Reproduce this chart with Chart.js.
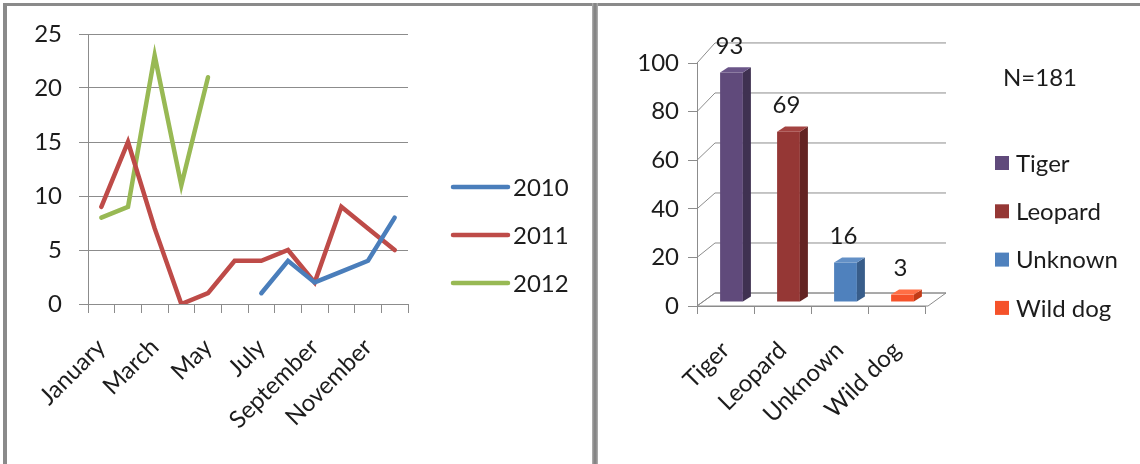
<!DOCTYPE html>
<html>
<head>
<meta charset="utf-8">
<title>Attacks by month and by predator</title>
<script src="https://cdn.jsdelivr.net/npm/chart.js@4.4.1/dist/chart.umd.min.js"></script>
<style>
  html, body { margin: 0; padding: 0; background: #fff; }
  #page { position: relative; width: 1140px; height: 464px; overflow: hidden; background: #fff; }
  canvas { position: absolute; left: 0; top: 0; }
  .rule { position: absolute; background: #8a8a8a; }
  .divider { background: linear-gradient(to right, #b4b4b4, #858585 35%, #858585 65%, #b4b4b4); }
</style>
</head>
<body>
<div id="page">
  <div class="rule" style="left:3px;top:3px;width:1137px;height:3px"></div>
  <div class="rule" style="left:3px;top:3px;width:4px;height:461px"></div>
  <div class="rule divider" style="left:592px;top:3px;width:6px;height:461px"></div>
  <canvas id="monthly" width="1140" height="464"></canvas>
  <canvas id="predators" width="1140" height="464"></canvas>
</div>
<script>
// ---- data ----
const months = ['January', 'February', 'March', 'April', 'May', 'June',
                'July', 'August', 'September', 'October', 'November', 'December'];
const years = ['2010', '2011', '2012'];
const cases2010 = [null, null, null, null, null, null, 1, 4, 2, 3, 4, 8];
const cases2011 = [9, 15, 7, 0, 1, 4, 4, 5, 2, 9, 7, 5];
const cases2012 = [8, 9, 23, 11, 21, null, null, null, null, null, null, null];

const predators = ['Tiger', 'Leopard', 'Unknown', 'Wild dog'];
const predatorCases = [93, 69, 16, 3];

// ---- styling ----
const FONT = 'Lato, "Open Sans", sans-serif';
const FONT_SIZE = 24;
const INK = '#1c1c1c';
const GRID = '#8c8c8c';
const yearColors = ['#4A7EBB', '#BE4B48', '#98B954'];
const faceColors = ['#604A7B', '#953735', '#4F81BD', '#F5522A'];
const sideColors = ['#3F3151', '#632423', '#385D8A', '#C23B17'];
const topColors = ['#6A5588', '#A34341', '#6390C6', '#FF6E45'];
const tickFont = { family: FONT, size: FONT_SIZE };
const cssFont = `${FONT_SIZE}px ${FONT}`;

// Line legend to the right of the monthly plot
const yearKey = {
  id: 'yearKey',
  afterDraw(chart) {
    const { ctx, chartArea } = chart;
    const x = chartArea.right + 45;
    ctx.save();
    chart.data.datasets.forEach((ds, i) => {
      const y = chartArea.top + 153 + i * 48;
      ctx.strokeStyle = ds.borderColor;
      ctx.lineWidth = 4.5;
      ctx.lineCap = 'round';
      ctx.beginPath();
      ctx.moveTo(x, y);
      ctx.lineTo(x + 55, y);
      ctx.stroke();
      ctx.fillStyle = INK;
      ctx.font = cssFont;
      ctx.textBaseline = 'middle';
      ctx.textAlign = 'left';
      ctx.fillText(ds.label, x + 60, y + 1);
    });
    ctx.restore();
  }
};

new Chart(document.getElementById('monthly'), {
  type: 'line',
  data: {
    labels: months,
    datasets: [
      { label: years[0], data: cases2010, borderColor: yearColors[0] },
      { label: years[1], data: cases2011, borderColor: yearColors[1] },
      { label: years[2], data: cases2012, borderColor: yearColors[2] }
    ]
  },
  options: {
    responsive: false,
    animation: false,
    layout: { padding: { left: 28, right: 732, top: 34, bottom: 10 } },
    elements: {
      line: { borderWidth: 4.5, tension: 0, borderCapStyle: 'round', borderJoinStyle: 'miter' },
      point: { radius: 0, hoverRadius: 0 }
    },
    plugins: { legend: { display: false }, tooltip: { enabled: false } },
    scales: {
      x: {
        offset: true,
        grid: { offset: true, drawOnChartArea: false, tickLength: 9, color: GRID },
        border: { display: false },
        ticks: {
          autoSkip: false, minRotation: 45, maxRotation: 45, padding: 20,
          font: tickFont, color: INK,
          callback: (v, i) => (i % 2 === 0 ? months[i] : '')
        },
        afterFit(s) { s.height = 150; }
      },
      y: {
        min: 0, max: 25,
        ticks: { stepSize: 5, padding: 17, font: tickFont, color: INK },
        grid: { color: GRID, tickLength: 9 },
        border: { color: GRID },
        afterFit(s) { s.width = 60; }
      }
    }
  },
  plugins: [yearKey]
});

// Oblique 3-D look: back wall, floor, bar sides and tops, value labels
const depth = { wallDx: 18, wallDy: -13, wallK: 1.029, barDx: 6, barDy: -4, barK: 1.016, sideDx: 8, sideDy: -5 };

const depth3d = {
  id: 'depth3d',
  beforeDatasetsDraw(chart) {
    const { ctx, chartArea: { left, right }, scales: { y: ys } } = chart;
    const y0 = ys.getPixelForValue(0);
    const back = v => y0 + depth.wallDy - (y0 - ys.getPixelForValue(v)) * depth.wallK;
    const farRight = right + 3;
    ctx.save();
    ctx.strokeStyle = GRID;
    ctx.lineWidth = 1;
    ctx.fillStyle = '#fff';
    ctx.beginPath();
    ctx.moveTo(left, y0);
    ctx.lineTo(farRight, y0);
    ctx.lineTo(farRight + depth.wallDx, back(0));
    ctx.lineTo(left + depth.wallDx, back(0));
    ctx.closePath();
    ctx.fill();
    ctx.stroke();
    ys.ticks.forEach(t => {
      const fy = ys.getPixelForValue(t.value);
      const by = back(t.value);
      ctx.beginPath();
      ctx.moveTo(left, fy);
      ctx.lineTo(left + depth.wallDx, by);
      ctx.lineTo(farRight + depth.wallDx, by);
      ctx.stroke();
    });
    ctx.restore();
    // bars sit a little behind the front axis plane
    ctx.save();
    ctx.translate(depth.barDx, y0 + depth.barDy);
    ctx.scale(1, depth.barK);
    ctx.translate(0, -y0);
  },
  afterDatasetsDraw(chart) {
    const { ctx } = chart;
    const meta = chart.getDatasetMeta(0);
    meta.data.forEach((bar, i) => {
      const { x, y, base, width } = bar.getProps(['x', 'y', 'base', 'width'], true);
      const l = x - width / 2, r = x + width / 2;
      ctx.fillStyle = sideColors[i];
      ctx.beginPath();
      ctx.moveTo(r, y);
      ctx.lineTo(r + depth.sideDx, y + depth.sideDy);
      ctx.lineTo(r + depth.sideDx, base + depth.sideDy);
      ctx.lineTo(r, base);
      ctx.closePath();
      ctx.fill();
      ctx.fillStyle = topColors[i];
      ctx.beginPath();
      ctx.moveTo(l, y);
      ctx.lineTo(l + depth.sideDx, y + depth.sideDy);
      ctx.lineTo(r + depth.sideDx, y + depth.sideDy);
      ctx.lineTo(r, y);
      ctx.closePath();
      ctx.fill();
    });
    ctx.restore();

    const y0 = chart.scales.y.getPixelForValue(0);
    const values = chart.data.datasets[0].data;
    ctx.save();
    ctx.font = cssFont;
    ctx.fillStyle = INK;
    ctx.textAlign = 'center';
    ctx.textBaseline = 'middle';
    meta.data.forEach((bar, i) => {
      const topY = y0 + depth.barDy + (bar.y - y0) * depth.barK;
      ctx.fillText(String(values[i]), bar.x + depth.barDx - 2, topY - 26);
    });
    ctx.restore();
  }
};

// Total and category key to the right of the bars
const predatorKey = {
  id: 'predatorKey',
  afterDraw(chart) {
    const { ctx, chartArea: { top, right } } = chart;
    const ds = chart.data.datasets[0];
    const total = ds.data.reduce((a, b) => a + b, 0);
    ctx.save();
    ctx.font = cssFont;
    ctx.fillStyle = INK;
    ctx.textBaseline = 'middle';
    ctx.textAlign = 'left';
    ctx.fillText('N=' + total, right + 78, top + 15);
    chart.data.labels.forEach((label, i) => {
      const cy = top + 100 + i * 48.3;
      ctx.fillStyle = ds.backgroundColor[i];
      ctx.fillRect(right + 70, cy - 7, 14, 14);
      ctx.fillStyle = INK;
      ctx.fillText(label, right + 91, cy + 1);
    });
    ctx.restore();
  }
};

new Chart(document.getElementById('predators'), {
  type: 'bar',
  data: {
    labels: predators,
    datasets: [{
      data: predatorCases,
      backgroundColor: faceColors,
      borderWidth: 0,
      barPercentage: 0.4,
      categoryPercentage: 1,
      clip: false
    }]
  },
  options: {
    responsive: false,
    animation: false,
    layout: { padding: { left: 597, right: 215, top: 63, bottom: 10 } },
    plugins: { legend: { display: false }, tooltip: { enabled: false } },
    scales: {
      x: {
        grid: { drawOnChartArea: false, tickLength: 8, color: GRID },
        border: { color: GRID },
        ticks: { minRotation: 45, maxRotation: 45, padding: 22, font: tickFont, color: INK },
        afterFit(s) { s.height = 148; }
      },
      y: {
        min: 0, max: 100,
        ticks: { stepSize: 20, padding: 9, font: tickFont, color: INK },
        grid: { drawOnChartArea: false, tickLength: 9, color: GRID },
        border: { color: GRID },
        afterFit(s) { s.width = 100; }
      }
    }
  },
  plugins: [depth3d, predatorKey]
});
</script>
</body>
</html>
